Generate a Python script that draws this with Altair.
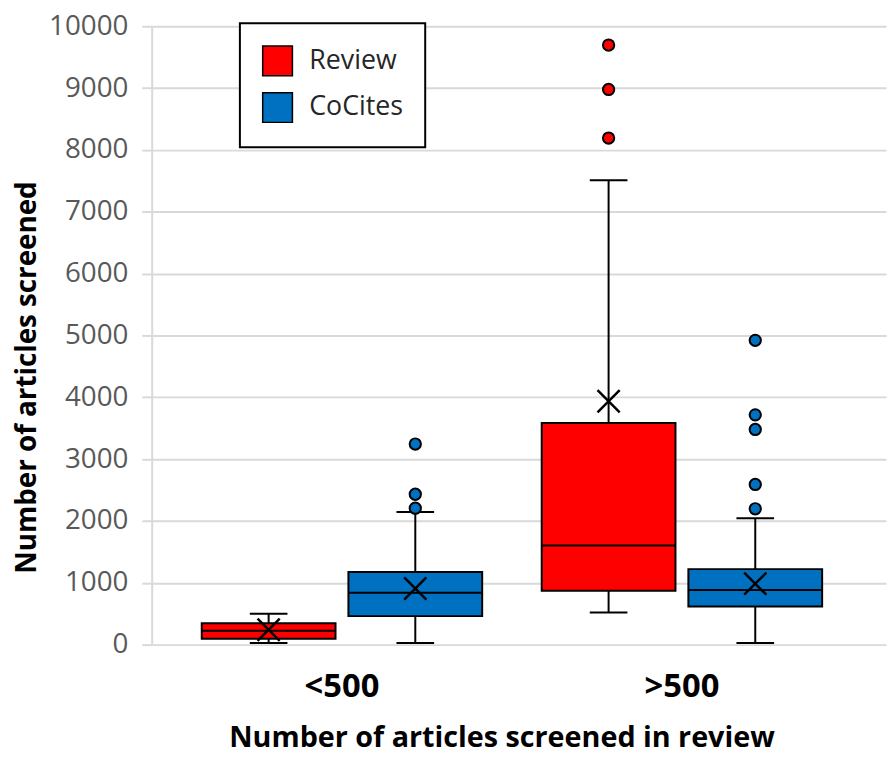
import altair as alt
import pandas as pd

# ---- data ----
groups = ["<500", "<500", ">500", ">500"]
series = ["Review", "CoCites", "Review", "CoCites"]
whisker_lo = [27, 27, 519, 27]
q1 = [94, 461, 870, 618]
median = [225, 838, 1604, 885]
q3 = [346, 1174, 3585, 1221]
whisker_hi = [498, 2143, 7510, 2044]
mean = [240, 907, 3936, 986]

out_group = ["<500", "<500", "<500", ">500", ">500", ">500",
             ">500", ">500", ">500", ">500", ">500"]
out_series = ["CoCites", "CoCites", "CoCites", "Review", "Review", "Review",
              "CoCites", "CoCites", "CoCites", "CoCites", "CoCites"]
out_value = [3244, 2432, 2206, 9696, 8978, 8192, 4921, 3716, 3480, 2590, 2197]

group_order = ["<500", ">500"]
series_order = ["Review", "CoCites"]
series_colors = ["#FF0000", "#0070C0"]
y_ticks = list(range(0, 10001, 1000))

stats = pd.DataFrame({
    "group": groups, "series": series, "lo": whisker_lo, "q1": q1,
    "median": median, "q3": q3, "hi": whisker_hi, "mean": mean,
})
outl = pd.DataFrame({"group": out_group, "series": out_series, "value": out_value})

FONT = "Open Sans"

x_enc = alt.X(
    "group:N",
    sort=group_order,
    scale=alt.Scale(domain=group_order, paddingInner=0, paddingOuter=0.08, align=0.373),
    axis=alt.Axis(
        title="Number of articles screened in review",
        labelAngle=0, ticks=False, domain=False, grid=False,
        labelFont=FONT, labelFontSize=33, labelFontWeight="bold", labelColor="black",
        labelPadding=26,
        titleFont=FONT, titleFontSize=29, titleFontWeight="bold", titleColor="black",
        titleX=353, titleY=94, titleAlign="center", titleBaseline="middle",
    ),
)
xo_enc = alt.XOffset(
    "series:N",
    sort=series_order,
    scale=alt.Scale(domain=series_order, paddingInner=0.088, paddingOuter=0.203),
)
y_axis = alt.Axis(
    title="Number of articles screened",
    values=y_ticks, format="d", grid=True, gridColor="#D9D9D9", gridWidth=2,
    domainColor="#D9D9D9", domainWidth=2,
    tickColor="#D9D9D9", tickWidth=2, tickSize=10,
    labelFont=FONT, labelFontSize=28, labelColor="#595959", labelPadding=14,
    titleFont=FONT, titleFontSize=28, titleFontWeight="bold", titleColor="black",
    titleX=-125, titleY=354, titleAngle=270, titleAlign="center", titleBaseline="middle",
)
y_scale = alt.Scale(domain=[0, 10000], nice=False)


def y_enc(field):
    return alt.Y(f"{field}:Q", scale=y_scale, axis=y_axis)


base = alt.Chart(stats)

whiskers = base.mark_rule(color="black", strokeWidth=2).encode(
    x=x_enc, xOffset=xo_enc, y=y_enc("lo"), y2="hi:Q"
)

boxes = base.mark_bar(stroke="black", strokeWidth=2).encode(
    x=x_enc, xOffset=xo_enc, y=y_enc("q1"), y2="q3:Q",
    color=alt.Color(
        "series:N",
        sort=series_order,
        scale=alt.Scale(domain=series_order, range=series_colors),
        legend=alt.Legend(
            title=None, orient="none", legendX=89, legendY=-3,
            symbolType="square", symbolSize=900,
            symbolStrokeColor="black", symbolStrokeWidth=1.5,
            labelFont=FONT, labelFontSize=27, labelColor="#262626",
            labelOffset=16, rowPadding=11, padding=22,
            strokeColor="black", fillColor="white",
        ),
    ),
)

medians = base.mark_tick(color="black", thickness=2, size=135, opacity=1).encode(
    x=x_enc, xOffset=xo_enc, y=y_enc("median")
)
caps_lo = base.mark_tick(color="black", thickness=2, size=38, opacity=1).encode(
    x=x_enc, xOffset=xo_enc, y=y_enc("lo")
)
caps_hi = base.mark_tick(color="black", thickness=2, size=38, opacity=1).encode(
    x=x_enc, xOffset=xo_enc, y=y_enc("hi")
)
means = base.mark_point(
    shape="M-1,-1L1,1M-1,1L1,-1", size=500, filled=False,
    stroke="black", strokeWidth=2.5, opacity=1,
).encode(x=x_enc, xOffset=xo_enc, y=y_enc("mean"))

outliers = alt.Chart(outl).mark_point(
    shape="circle", filled=True, size=130, stroke="black", strokeWidth=2, opacity=1
).encode(
    x=x_enc, xOffset=xo_enc, y=y_enc("value"),
    fill=alt.Fill("series:N", scale=alt.Scale(domain=series_order, range=series_colors), legend=None),
)

chart = alt.layer(whiskers, boxes, medians, caps_lo, caps_hi, means, outliers).properties(
    width=741, height=624,
    padding={"left": 145, "top": 15, "right": 2, "bottom": 112},
    autosize=alt.AutoSizeParams(type="none"),
    background="white",
).configure_view(stroke=None).configure_legend(strokeWidth=2)

chart.save("out.html", embed_options={"renderer": "svg", "actions": False})
